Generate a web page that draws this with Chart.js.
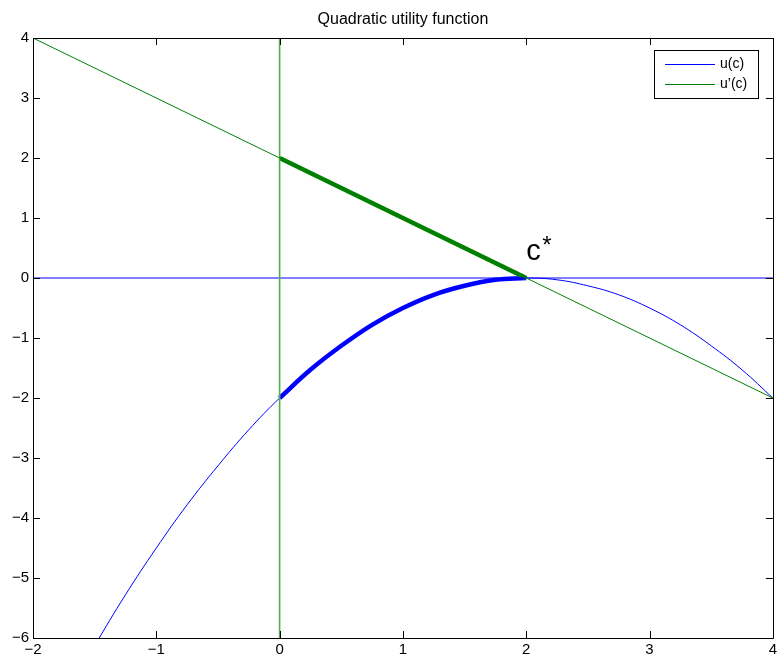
<!DOCTYPE html>
<html>
<head>
<meta charset="utf-8">
<script src="https://cdn.jsdelivr.net/npm/chart.js@4/dist/chart.umd.min.js"></script>
<style>
  html, body { margin: 0; padding: 0; background: #fff; }
  #wrap { width: 780px; height: 663px; }
</style>
</head>
<body>
<div id="wrap"><canvas id="utilityChart" width="780" height="663"></canvas></div>
<script>
// consumption grid and values
const cValues = [-2, -1.75, -1.5, -1.25, -1, -0.75, -0.5, -0.25, 0, 0.25, 0.5, 0.75, 1,
                 1.25, 1.5, 1.75, 2, 2.25, 2.5, 2.75, 3, 3.25, 3.5, 3.75, 4];
const uValues = [-8, -7.03, -6.13, -5.28, -4.5, -3.78, -3.13, -2.53, -2, -1.53, -1.13, -0.78, -0.5,
                 -0.28, -0.13, -0.03, 0, -0.03, -0.13, -0.28, -0.5, -0.78, -1.13, -1.53, -2];
const duC = [-2, 4];
const duValues = [4, -2];
// highlighted part, c from 0 to 2
const thickC = [0, 0.25, 0.5, 0.75, 1, 1.25, 1.5, 1.75, 2];
const thickU = [-2, -1.53, -1.13, -0.78, -0.5, -0.28, -0.13, -0.03, 0];
const thickDuC = [0, 2];
const thickDu = [2, 0];
const xTicks = [-2, -1, 0, 1, 2, 3, 4];
const yTicks = [-6, -5, -4, -3, -2, -1, 0, 1, 2, 3, 4];
const legendLabels = ['u(c)', 'u\u2019(c)'];
const titleText = 'Quadratic utility function';

const BLUE = '#0000ff';
const GREEN = '#008000';
const FONT = '"Liberation Sans", Arial, Helvetica, sans-serif';

function pts(xs, ys) {
    return xs.map((x, i) => ({ x: x, y: ys[i] }));
}
function minus(v) {
    return v < 0 ? '\u2212' + Math.abs(v) : String(v);
}

const boxPlugin = {
    id: 'boxPlugin',
    afterDatasetsDraw(chart) {
        const ctx = chart.ctx;
        const a = chart.chartArea;
        const xs = chart.scales.x, ys = chart.scales.y;
        ctx.save();

        // title, centred over the plot box
        ctx.fillStyle = '#000';
        ctx.textAlign = 'center';
        ctx.textBaseline = 'alphabetic';
        ctx.font = '16px ' + FONT;
        ctx.fillText(titleText, (a.left + a.right) / 2, 24);

        // c* label
        ctx.textAlign = 'left';
        const lx = xs.getPixelForValue(2.0);
        const ly = ys.getPixelForValue(0.3);
        ctx.font = '29px ' + FONT;
        ctx.fillText('c', lx, ly);
        ctx.font = '24px ' + FONT;
        ctx.fillText('*', lx + 16, ly - 7);

        // frame and inward ticks
        ctx.strokeStyle = '#000';
        ctx.lineWidth = 1;
        ctx.beginPath();
        ctx.rect(Math.round(a.left) + 0.5, Math.round(a.top) + 0.5,
                 Math.round(a.right - a.left), Math.round(a.bottom - a.top));
        const t = 7;
        xTicks.forEach(v => {
            const p = Math.round(xs.getPixelForValue(v)) + 0.5;
            ctx.moveTo(p, a.bottom); ctx.lineTo(p, a.bottom - t);
            ctx.moveTo(p, a.top); ctx.lineTo(p, a.top + t);
        });
        yTicks.forEach(v => {
            const p = Math.round(ys.getPixelForValue(v)) + 0.5;
            ctx.moveTo(a.left, p); ctx.lineTo(a.left + t, p);
            ctx.moveTo(a.right, p); ctx.lineTo(a.right - t, p);
        });
        ctx.stroke();

        // legend box
        const bx = 654.5, by = 50.5, bw = 104, bh = 48;
        ctx.fillStyle = '#fff';
        ctx.fillRect(bx, by, bw, bh);
        ctx.strokeRect(bx, by, bw, bh);
        ctx.font = '14px ' + FONT;
        ctx.textBaseline = 'middle';
        [BLUE, GREEN].forEach((col, i) => {
            const yy = 64.5 + i * 20;
            ctx.strokeStyle = col;
            ctx.beginPath();
            ctx.moveTo(665, yy); ctx.lineTo(715, yy);
            ctx.stroke();
            ctx.fillStyle = '#000';
            ctx.fillText(legendLabels[i], 720, yy);
        });
        ctx.restore();
    }
};

const ctx = document.getElementById('utilityChart').getContext('2d');
new Chart(ctx, {
    type: 'scatter',
    data: {
        datasets: [
            { data: pts(duC, duValues), borderColor: GREEN, borderWidth: 1, showLine: true, pointRadius: 0 },
            { data: pts([0, 0], [-6, 4]), borderColor: '#4cae4c', borderWidth: 1.6, showLine: true, pointRadius: 0 },
            { data: pts([-2, 4], [0, 0]), borderColor: BLUE, borderWidth: 1, showLine: true, pointRadius: 0 },
            { data: pts(cValues, uValues), borderColor: BLUE, borderWidth: 1, showLine: true, pointRadius: 0, tension: 0.4 },
            { data: pts(thickDuC, thickDu), borderColor: GREEN, borderWidth: 4.5, showLine: true, pointRadius: 0 },
            { data: pts(thickC, thickU), borderColor: BLUE, borderWidth: 4.5, showLine: true, pointRadius: 0, tension: 0.4 }
        ]
    },
    options: {
        responsive: false,
        animation: false,
        layout: { padding: { left: 0, right: 7, top: 38, bottom: 0 } },
        plugins: {
            legend: { display: false },
            tooltip: { enabled: false },
            title: { display: false }
        },
        scales: {
            x: {
                type: 'linear', min: -2, max: 4,
                afterFit: s => { s.height = 25; },
                afterBuildTicks: s => { s.ticks = xTicks.map(v => ({ value: v })); },
                grid: { drawOnChartArea: false, drawTicks: false },
                border: { color: '#000' },
                ticks: {
                    color: '#000', padding: 3,
                    font: { family: FONT, size: 15 },
                    callback: v => minus(v)
                }
            },
            y: {
                type: 'linear', min: -6, max: 4,
                afterFit: s => { s.width = 33; },
                afterBuildTicks: s => { s.ticks = yTicks.map(v => ({ value: v })); },
                grid: { drawOnChartArea: false, drawTicks: false },
                border: { color: '#000' },
                ticks: {
                    color: '#000', padding: 4,
                    font: { family: FONT, size: 15 },
                    callback: v => minus(v)
                }
            }
        }
    },
    plugins: [boxPlugin]
});
</script>
</body>
</html>
